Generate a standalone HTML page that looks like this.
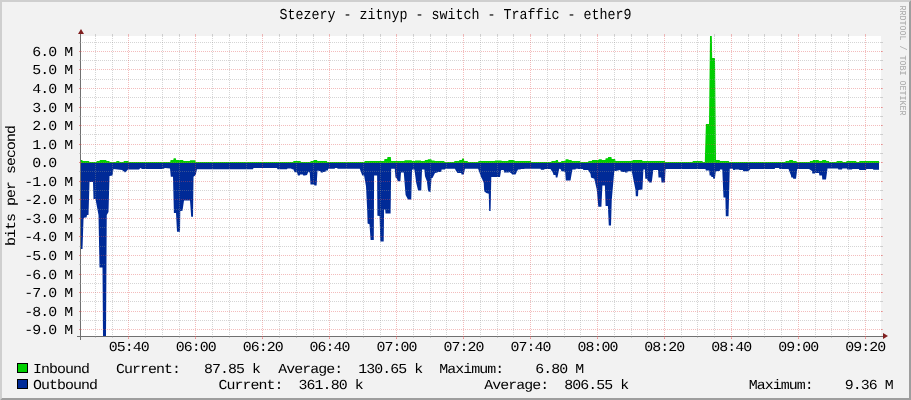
<!DOCTYPE html>
<html><head><meta charset="utf-8"><title>Traffic - ether9</title>
<style>html,body{margin:0;padding:0;background:#F2F2F2;}body{width:911px;height:400px;overflow:hidden;}svg{display:block;will-change:transform;font-family:"Liberation Mono",monospace;}</style>
</head><body>
<svg width="911" height="400" viewBox="0 0 911 400" shape-rendering="crispEdges">
<rect x="0" y="0" width="911" height="400" fill="#F2F2F2"/>
<polygon shape-rendering="auto" points="0,0 0,400 2,398 2,2 909,2 911,0" fill="#CFCFCF"/>
<polygon shape-rendering="auto" points="2,398 909,398 909,2 911,0 911,400 0,400" fill="#9E9E9E"/>
<rect x="81" y="36" width="800" height="300" fill="#FFFFFF"/>
<path shape-rendering="auto" d="M81.00,163.00 L81.00,160.00 L82.30,160.00 L82.70,161.00 L89.00,161.00 L89.40,162.00 L96.40,162.00 L96.80,161.00 L99.50,161.00 L99.90,160.00 L106.20,160.00 L106.60,161.00 L109.30,161.00 L109.70,162.00 L116.10,162.00 L116.50,161.00 L119.20,161.00 L119.60,162.00 L123.50,162.00 L123.90,161.00 L128.40,161.00 L128.80,162.00 L170.20,162.00 L170.60,160.00 L173.30,160.00 L173.70,158.20 L175.80,158.20 L176.20,160.00 L183.10,160.00 L183.50,161.00 L189.80,161.00 L190.20,160.30 L195.30,160.30 L195.70,162.00 L293.10,162.00 L293.50,161.00 L300.50,161.00 L300.90,162.00 L310.30,162.00 L310.70,161.00 L313.30,161.00 L313.70,160.00 L317.00,160.00 L317.40,161.00 L326.80,161.00 L327.20,162.00 L364.40,162.00 L364.80,161.00 L384.10,161.00 L384.50,159.00 L387.10,159.00 L387.50,157.00 L390.80,157.00 L391.20,161.00 L404.30,161.00 L404.70,160.30 L411.60,160.30 L412.00,161.00 L414.80,161.00 L415.20,160.40 L420.80,160.40 L421.20,161.00 L424.60,161.00 L425.00,160.00 L427.60,160.00 L428.00,159.20 L431.30,159.20 L431.70,160.40 L434.40,160.40 L434.80,161.00 L444.20,161.00 L444.60,162.00 L454.10,162.00 L454.50,161.00 L459.00,161.00 L459.40,160.00 L461.80,160.00 L462.20,158.60 L463.90,158.60 L464.30,161.00 L467.60,161.00 L468.00,162.00 L478.10,162.00 L478.50,161.00 L494.70,161.00 L495.10,160.40 L501.40,160.40 L501.80,161.00 L508.20,161.00 L508.60,160.10 L514.30,160.10 L514.70,161.00 L530.80,161.00 L531.20,162.00 L551.20,162.00 L551.60,161.00 L555.50,161.00 L555.90,160.00 L557.90,160.00 L558.30,162.00 L561.00,162.00 L561.40,161.00 L565.30,161.00 L565.70,159.20 L568.40,159.20 L568.80,160.10 L571.50,160.10 L571.90,161.00 L580.10,161.00 L580.50,162.00 L588.10,162.00 L588.50,161.00 L591.80,161.00 L592.20,160.00 L598.50,160.00 L598.90,159.20 L601.60,159.20 L602.00,160.00 L605.30,160.00 L605.70,158.20 L607.80,158.20 L608.20,157.00 L611.40,157.00 L611.80,159.00 L615.10,159.00 L615.50,161.00 L632.30,161.00 L632.70,160.00 L642.10,160.00 L642.50,161.00 L664.80,161.00 L665.20,162.00 L692.50,162.00 L692.90,161.00 L702.40,161.00 L702.80,162.00 L704.80,162.00 L705.90,124.00 L709.00,124.00 L710.00,36.00 L711.80,36.00 L712.20,58.00 L715.00,58.00 L716.00,160.00 L719.60,160.00 L720.00,161.00 L728.80,161.00 L729.20,162.00 L785.30,162.00 L785.70,161.00 L789.00,161.00 L789.40,160.00 L792.70,160.00 L793.10,161.00 L796.40,161.00 L796.80,162.00 L809.70,162.00 L810.10,161.00 L812.60,161.00 L813.00,160.00 L818.60,160.00 L819.00,161.00 L822.00,161.00 L822.40,160.00 L826.00,160.00 L826.40,161.00 L828.90,161.00 L829.30,162.00 L836.40,162.00 L836.80,161.00 L842.30,161.00 L842.70,162.00 L846.20,162.00 L846.60,161.00 L856.10,161.00 L856.50,162.00 L859.10,162.00 L859.50,161.00 L879.00,161.00 L879.00,163.00 Z" fill="#00CF00"/>
<path shape-rendering="auto" d="M81.00,163.00 L81.00,249.00 L82.50,249.00 L83.50,219.00 L84.50,217.50 L86.50,217.50 L87.00,215.00 L88.50,215.00 L89.50,182.00 L93.00,182.00 L93.50,199.00 L95.50,199.00 L98.50,215.00 L99.50,267.50 L102.50,267.50 L103.00,336.00 L106.00,336.00 L106.75,215.00 L108.50,212.00 L109.50,176.00 L112.50,175.50 L113.50,169.00 L122.00,170.00 L125.00,172.50 L128.00,169.50 L139.00,169.50 L140.50,168.00 L142.00,169.00 L163.00,169.00 L165.00,168.00 L170.00,168.50 L170.80,176.80 L173.00,176.80 L173.90,212.90 L176.00,212.90 L177.00,231.70 L180.00,231.70 L180.30,211.00 L182.50,210.70 L184.00,200.60 L190.00,200.60 L191.20,216.80 L193.00,216.80 L193.50,176.80 L195.70,175.00 L197.00,169.20 L253.00,169.20 L253.50,168.00 L277.00,168.00 L277.50,169.20 L287.00,169.20 L287.50,168.40 L291.00,168.40 L292.00,169.20 L293.30,169.20 L294.50,172.30 L297.00,172.30 L297.90,175.60 L299.75,175.60 L300.00,174.40 L302.90,174.40 L303.20,175.60 L304.75,175.60 L307.00,175.00 L308.20,171.90 L309.75,172.50 L310.50,184.40 L314.10,184.40 L314.50,185.60 L316.60,185.60 L317.50,170.60 L320.40,171.20 L320.80,172.50 L322.90,172.50 L323.20,171.90 L325.40,171.90 L325.80,170.60 L327.90,170.60 L328.20,168.75 L334.75,168.75 L335.00,168.10 L337.25,168.10 L337.50,168.75 L359.75,168.75 L362.25,175.60 L364.10,175.60 L366.00,186.25 L367.20,210.00 L367.60,223.60 L369.50,224.20 L370.60,240.00 L373.80,240.00 L374.10,175.60 L377.10,175.60 L377.40,215.70 L379.60,215.90 L380.30,241.60 L383.70,241.60 L384.10,209.60 L385.20,209.60 L385.50,213.50 L390.60,213.50 L391.20,168.75 L392.25,168.75 L394.75,168.75 L395.50,177.50 L396.60,178.00 L397.90,181.25 L400.40,181.25 L401.00,172.50 L403.75,172.50 L405.60,195.00 L408.00,199.40 L411.25,199.40 L412.00,170.00 L412.50,169.40 L414.40,169.40 L416.25,183.00 L418.10,190.60 L421.25,190.60 L422.00,169.40 L424.40,169.40 L425.00,176.25 L426.90,181.25 L428.10,191.25 L430.60,191.90 L431.50,178.10 L432.50,178.10 L435.00,173.10 L437.50,172.50 L437.80,171.90 L441.25,171.90 L441.60,169.40 L445.00,169.40 L445.30,168.75 L455.00,168.75 L455.50,170.00 L457.50,173.10 L461.25,173.10 L461.50,174.40 L463.75,174.40 L465.00,168.75 L478.10,168.75 L481.25,177.50 L482.00,178.75 L483.75,183.00 L484.20,191.25 L486.25,193.00 L488.75,193.75 L489.20,211.00 L490.60,211.00 L491.30,176.90 L500.00,176.90 L501.20,170.00 L503.75,170.00 L504.00,172.50 L508.75,172.50 L509.25,171.90 L510.00,172.50 L511.75,173.75 L512.00,174.40 L515.50,174.40 L518.00,169.40 L520.50,169.40 L520.80,169.00 L524.25,169.00 L524.50,168.75 L540.50,168.75 L541.00,169.75 L544.25,169.75 L544.50,169.00 L550.50,169.00 L553.00,173.00 L553.50,175.00 L555.50,175.00 L555.80,177.50 L557.40,177.50 L559.25,168.75 L560.50,169.00 L561.50,171.25 L563.00,171.25 L565.20,171.90 L565.80,180.60 L570.50,180.60 L572.40,169.40 L575.50,169.40 L575.80,168.75 L578.00,168.75 L578.30,169.00 L583.00,169.00 L583.30,170.00 L588.00,170.00 L590.50,173.75 L591.00,177.50 L594.25,178.75 L596.75,189.40 L598.30,206.80 L601.40,206.80 L602.40,185.60 L604.90,185.60 L605.60,205.90 L607.90,205.90 L608.80,225.60 L611.00,225.60 L611.75,200.00 L614.25,171.25 L618.00,170.60 L619.90,170.00 L621.75,171.90 L624.90,171.90 L625.20,172.50 L627.40,172.50 L627.70,171.25 L631.75,171.25 L633.60,180.60 L635.50,190.00 L635.80,196.25 L638.00,196.25 L638.30,190.00 L642.40,189.40 L643.40,169.40 L644.90,169.40 L645.30,178.75 L646.75,178.75 L649.25,182.50 L651.75,182.50 L653.30,170.00 L658.00,170.00 L658.50,177.50 L661.10,177.50 L661.50,182.50 L664.90,182.50 L665.50,169.40 L666.00,168.90 L705.50,168.90 L705.80,170.60 L709.25,170.60 L709.60,175.60 L711.10,175.60 L711.40,176.90 L713.00,176.90 L713.30,178.75 L714.90,178.75 L715.80,171.25 L719.75,171.00 L720.00,169.40 L722.25,169.40 L723.50,197.50 L725.40,197.50 L725.80,216.25 L728.50,216.25 L729.75,168.75 L732.90,168.75 L733.20,170.00 L734.75,170.00 L735.00,169.40 L739.10,169.40 L739.40,170.00 L742.90,170.00 L743.20,171.25 L748.50,171.25 L750.40,169.00 L774.75,169.00 L775.00,168.10 L779.10,168.10 L779.40,169.00 L788.50,169.00 L791.00,175.60 L791.30,177.50 L792.90,177.50 L793.20,178.75 L796.00,178.75 L797.25,169.00 L809.00,169.00 L812.00,171.00 L812.30,173.50 L815.00,173.50 L815.30,173.00 L819.00,173.00 L819.40,175.50 L822.00,175.50 L822.30,179.50 L826.00,179.50 L827.50,168.50 L838.00,168.50 L838.30,169.50 L842.00,169.50 L842.30,168.50 L847.00,168.50 L847.30,169.50 L852.00,169.50 L852.30,169.00 L859.00,169.00 L859.30,170.00 L866.00,170.00 L866.30,169.00 L873.00,169.00 L873.30,169.70 L879.00,169.70 L879.00,163.00 Z" fill="#002A97"/>
<rect x="77" y="336" width="808" height="1" fill="#707070"/>
<rect x="80" y="32" width="1" height="308" fill="#707070"/>
<polygon shape-rendering="auto" points="883,333 883,339 888,336" fill="#801F1F"/>
<polygon shape-rendering="auto" points="78,34 84,34 81,29" fill="#801F1F"/>
<line x1="79" y1="329.5" x2="883" y2="329.5" stroke="rgba(224,80,80,0.38)" stroke-width="1" stroke-dasharray="1 1"/>
<line x1="79" y1="329.5" x2="81" y2="329.5" stroke="rgba(224,80,80,0.38)" stroke-width="1"/>
<line x1="881" y1="329.5" x2="883" y2="329.5" stroke="rgba(224,80,80,0.38)" stroke-width="1"/>
<line x1="80" y1="320.5" x2="882" y2="320.5" stroke="rgba(144,144,144,0.38)" stroke-width="1" stroke-dasharray="1 1"/>
<line x1="79" y1="320.5" x2="81" y2="320.5" stroke="rgba(144,144,144,0.38)" stroke-width="1"/>
<line x1="881" y1="320.5" x2="883" y2="320.5" stroke="rgba(144,144,144,0.38)" stroke-width="1"/>
<line x1="79" y1="311.5" x2="883" y2="311.5" stroke="rgba(224,80,80,0.38)" stroke-width="1" stroke-dasharray="1 1"/>
<line x1="79" y1="311.5" x2="81" y2="311.5" stroke="rgba(224,80,80,0.38)" stroke-width="1"/>
<line x1="881" y1="311.5" x2="883" y2="311.5" stroke="rgba(224,80,80,0.38)" stroke-width="1"/>
<line x1="80" y1="301.5" x2="882" y2="301.5" stroke="rgba(144,144,144,0.38)" stroke-width="1" stroke-dasharray="1 1"/>
<line x1="79" y1="301.5" x2="81" y2="301.5" stroke="rgba(144,144,144,0.38)" stroke-width="1"/>
<line x1="881" y1="301.5" x2="883" y2="301.5" stroke="rgba(144,144,144,0.38)" stroke-width="1"/>
<line x1="79" y1="292.5" x2="883" y2="292.5" stroke="rgba(224,80,80,0.38)" stroke-width="1" stroke-dasharray="1 1"/>
<line x1="79" y1="292.5" x2="81" y2="292.5" stroke="rgba(224,80,80,0.38)" stroke-width="1"/>
<line x1="881" y1="292.5" x2="883" y2="292.5" stroke="rgba(224,80,80,0.38)" stroke-width="1"/>
<line x1="80" y1="283.5" x2="882" y2="283.5" stroke="rgba(144,144,144,0.38)" stroke-width="1" stroke-dasharray="1 1"/>
<line x1="79" y1="283.5" x2="81" y2="283.5" stroke="rgba(144,144,144,0.38)" stroke-width="1"/>
<line x1="881" y1="283.5" x2="883" y2="283.5" stroke="rgba(144,144,144,0.38)" stroke-width="1"/>
<line x1="79" y1="274.5" x2="883" y2="274.5" stroke="rgba(224,80,80,0.38)" stroke-width="1" stroke-dasharray="1 1"/>
<line x1="79" y1="274.5" x2="81" y2="274.5" stroke="rgba(224,80,80,0.38)" stroke-width="1"/>
<line x1="881" y1="274.5" x2="883" y2="274.5" stroke="rgba(224,80,80,0.38)" stroke-width="1"/>
<line x1="80" y1="264.5" x2="882" y2="264.5" stroke="rgba(144,144,144,0.38)" stroke-width="1" stroke-dasharray="1 1"/>
<line x1="79" y1="264.5" x2="81" y2="264.5" stroke="rgba(144,144,144,0.38)" stroke-width="1"/>
<line x1="881" y1="264.5" x2="883" y2="264.5" stroke="rgba(144,144,144,0.38)" stroke-width="1"/>
<line x1="79" y1="255.5" x2="883" y2="255.5" stroke="rgba(224,80,80,0.38)" stroke-width="1" stroke-dasharray="1 1"/>
<line x1="79" y1="255.5" x2="81" y2="255.5" stroke="rgba(224,80,80,0.38)" stroke-width="1"/>
<line x1="881" y1="255.5" x2="883" y2="255.5" stroke="rgba(224,80,80,0.38)" stroke-width="1"/>
<line x1="80" y1="246.5" x2="882" y2="246.5" stroke="rgba(144,144,144,0.38)" stroke-width="1" stroke-dasharray="1 1"/>
<line x1="79" y1="246.5" x2="81" y2="246.5" stroke="rgba(144,144,144,0.38)" stroke-width="1"/>
<line x1="881" y1="246.5" x2="883" y2="246.5" stroke="rgba(144,144,144,0.38)" stroke-width="1"/>
<line x1="79" y1="236.5" x2="883" y2="236.5" stroke="rgba(224,80,80,0.38)" stroke-width="1" stroke-dasharray="1 1"/>
<line x1="79" y1="236.5" x2="81" y2="236.5" stroke="rgba(224,80,80,0.38)" stroke-width="1"/>
<line x1="881" y1="236.5" x2="883" y2="236.5" stroke="rgba(224,80,80,0.38)" stroke-width="1"/>
<line x1="80" y1="227.5" x2="882" y2="227.5" stroke="rgba(144,144,144,0.38)" stroke-width="1" stroke-dasharray="1 1"/>
<line x1="79" y1="227.5" x2="81" y2="227.5" stroke="rgba(144,144,144,0.38)" stroke-width="1"/>
<line x1="881" y1="227.5" x2="883" y2="227.5" stroke="rgba(144,144,144,0.38)" stroke-width="1"/>
<line x1="79" y1="218.5" x2="883" y2="218.5" stroke="rgba(224,80,80,0.38)" stroke-width="1" stroke-dasharray="1 1"/>
<line x1="79" y1="218.5" x2="81" y2="218.5" stroke="rgba(224,80,80,0.38)" stroke-width="1"/>
<line x1="881" y1="218.5" x2="883" y2="218.5" stroke="rgba(224,80,80,0.38)" stroke-width="1"/>
<line x1="80" y1="209.5" x2="882" y2="209.5" stroke="rgba(144,144,144,0.38)" stroke-width="1" stroke-dasharray="1 1"/>
<line x1="79" y1="209.5" x2="81" y2="209.5" stroke="rgba(144,144,144,0.38)" stroke-width="1"/>
<line x1="881" y1="209.5" x2="883" y2="209.5" stroke="rgba(144,144,144,0.38)" stroke-width="1"/>
<line x1="79" y1="199.5" x2="883" y2="199.5" stroke="rgba(224,80,80,0.38)" stroke-width="1" stroke-dasharray="1 1"/>
<line x1="79" y1="199.5" x2="81" y2="199.5" stroke="rgba(224,80,80,0.38)" stroke-width="1"/>
<line x1="881" y1="199.5" x2="883" y2="199.5" stroke="rgba(224,80,80,0.38)" stroke-width="1"/>
<line x1="80" y1="190.5" x2="882" y2="190.5" stroke="rgba(144,144,144,0.38)" stroke-width="1" stroke-dasharray="1 1"/>
<line x1="79" y1="190.5" x2="81" y2="190.5" stroke="rgba(144,144,144,0.38)" stroke-width="1"/>
<line x1="881" y1="190.5" x2="883" y2="190.5" stroke="rgba(144,144,144,0.38)" stroke-width="1"/>
<line x1="79" y1="181.5" x2="883" y2="181.5" stroke="rgba(224,80,80,0.38)" stroke-width="1" stroke-dasharray="1 1"/>
<line x1="79" y1="181.5" x2="81" y2="181.5" stroke="rgba(224,80,80,0.38)" stroke-width="1"/>
<line x1="881" y1="181.5" x2="883" y2="181.5" stroke="rgba(224,80,80,0.38)" stroke-width="1"/>
<line x1="80" y1="171.5" x2="882" y2="171.5" stroke="rgba(144,144,144,0.38)" stroke-width="1" stroke-dasharray="1 1"/>
<line x1="79" y1="171.5" x2="81" y2="171.5" stroke="rgba(144,144,144,0.38)" stroke-width="1"/>
<line x1="881" y1="171.5" x2="883" y2="171.5" stroke="rgba(144,144,144,0.38)" stroke-width="1"/>
<line x1="79" y1="162.5" x2="883" y2="162.5" stroke="rgba(224,80,80,0.38)" stroke-width="1" stroke-dasharray="1 1"/>
<line x1="79" y1="162.5" x2="81" y2="162.5" stroke="rgba(224,80,80,0.38)" stroke-width="1"/>
<line x1="881" y1="162.5" x2="883" y2="162.5" stroke="rgba(224,80,80,0.38)" stroke-width="1"/>
<line x1="80" y1="153.5" x2="882" y2="153.5" stroke="rgba(144,144,144,0.38)" stroke-width="1" stroke-dasharray="1 1"/>
<line x1="79" y1="153.5" x2="81" y2="153.5" stroke="rgba(144,144,144,0.38)" stroke-width="1"/>
<line x1="881" y1="153.5" x2="883" y2="153.5" stroke="rgba(144,144,144,0.38)" stroke-width="1"/>
<line x1="79" y1="144.5" x2="883" y2="144.5" stroke="rgba(224,80,80,0.38)" stroke-width="1" stroke-dasharray="1 1"/>
<line x1="79" y1="144.5" x2="81" y2="144.5" stroke="rgba(224,80,80,0.38)" stroke-width="1"/>
<line x1="881" y1="144.5" x2="883" y2="144.5" stroke="rgba(224,80,80,0.38)" stroke-width="1"/>
<line x1="80" y1="134.5" x2="882" y2="134.5" stroke="rgba(144,144,144,0.38)" stroke-width="1" stroke-dasharray="1 1"/>
<line x1="79" y1="134.5" x2="81" y2="134.5" stroke="rgba(144,144,144,0.38)" stroke-width="1"/>
<line x1="881" y1="134.5" x2="883" y2="134.5" stroke="rgba(144,144,144,0.38)" stroke-width="1"/>
<line x1="79" y1="125.5" x2="883" y2="125.5" stroke="rgba(224,80,80,0.38)" stroke-width="1" stroke-dasharray="1 1"/>
<line x1="79" y1="125.5" x2="81" y2="125.5" stroke="rgba(224,80,80,0.38)" stroke-width="1"/>
<line x1="881" y1="125.5" x2="883" y2="125.5" stroke="rgba(224,80,80,0.38)" stroke-width="1"/>
<line x1="80" y1="116.5" x2="882" y2="116.5" stroke="rgba(144,144,144,0.38)" stroke-width="1" stroke-dasharray="1 1"/>
<line x1="79" y1="116.5" x2="81" y2="116.5" stroke="rgba(144,144,144,0.38)" stroke-width="1"/>
<line x1="881" y1="116.5" x2="883" y2="116.5" stroke="rgba(144,144,144,0.38)" stroke-width="1"/>
<line x1="79" y1="107.5" x2="883" y2="107.5" stroke="rgba(224,80,80,0.38)" stroke-width="1" stroke-dasharray="1 1"/>
<line x1="79" y1="107.5" x2="81" y2="107.5" stroke="rgba(224,80,80,0.38)" stroke-width="1"/>
<line x1="881" y1="107.5" x2="883" y2="107.5" stroke="rgba(224,80,80,0.38)" stroke-width="1"/>
<line x1="80" y1="97.5" x2="882" y2="97.5" stroke="rgba(144,144,144,0.38)" stroke-width="1" stroke-dasharray="1 1"/>
<line x1="79" y1="97.5" x2="81" y2="97.5" stroke="rgba(144,144,144,0.38)" stroke-width="1"/>
<line x1="881" y1="97.5" x2="883" y2="97.5" stroke="rgba(144,144,144,0.38)" stroke-width="1"/>
<line x1="79" y1="88.5" x2="883" y2="88.5" stroke="rgba(224,80,80,0.38)" stroke-width="1" stroke-dasharray="1 1"/>
<line x1="79" y1="88.5" x2="81" y2="88.5" stroke="rgba(224,80,80,0.38)" stroke-width="1"/>
<line x1="881" y1="88.5" x2="883" y2="88.5" stroke="rgba(224,80,80,0.38)" stroke-width="1"/>
<line x1="80" y1="79.5" x2="882" y2="79.5" stroke="rgba(144,144,144,0.38)" stroke-width="1" stroke-dasharray="1 1"/>
<line x1="79" y1="79.5" x2="81" y2="79.5" stroke="rgba(144,144,144,0.38)" stroke-width="1"/>
<line x1="881" y1="79.5" x2="883" y2="79.5" stroke="rgba(144,144,144,0.38)" stroke-width="1"/>
<line x1="79" y1="69.5" x2="883" y2="69.5" stroke="rgba(224,80,80,0.38)" stroke-width="1" stroke-dasharray="1 1"/>
<line x1="79" y1="69.5" x2="81" y2="69.5" stroke="rgba(224,80,80,0.38)" stroke-width="1"/>
<line x1="881" y1="69.5" x2="883" y2="69.5" stroke="rgba(224,80,80,0.38)" stroke-width="1"/>
<line x1="80" y1="60.5" x2="882" y2="60.5" stroke="rgba(144,144,144,0.38)" stroke-width="1" stroke-dasharray="1 1"/>
<line x1="79" y1="60.5" x2="81" y2="60.5" stroke="rgba(144,144,144,0.38)" stroke-width="1"/>
<line x1="881" y1="60.5" x2="883" y2="60.5" stroke="rgba(144,144,144,0.38)" stroke-width="1"/>
<line x1="79" y1="51.5" x2="883" y2="51.5" stroke="rgba(224,80,80,0.38)" stroke-width="1" stroke-dasharray="1 1"/>
<line x1="79" y1="51.5" x2="81" y2="51.5" stroke="rgba(224,80,80,0.38)" stroke-width="1"/>
<line x1="881" y1="51.5" x2="883" y2="51.5" stroke="rgba(224,80,80,0.38)" stroke-width="1"/>
<line x1="80" y1="42.5" x2="882" y2="42.5" stroke="rgba(144,144,144,0.38)" stroke-width="1" stroke-dasharray="1 1"/>
<line x1="79" y1="42.5" x2="81" y2="42.5" stroke="rgba(144,144,144,0.38)" stroke-width="1"/>
<line x1="881" y1="42.5" x2="883" y2="42.5" stroke="rgba(144,144,144,0.38)" stroke-width="1"/>
<line x1="95.5" y1="36" x2="95.5" y2="336" stroke="rgba(144,144,144,0.38)" stroke-width="1" stroke-dasharray="1 1"/>
<line x1="95.5" y1="34" x2="95.5" y2="36" stroke="rgba(144,144,144,0.38)" stroke-width="1"/>
<line x1="95.5" y1="336" x2="95.5" y2="338" stroke="rgba(144,144,144,0.38)" stroke-width="1"/>
<line x1="112.5" y1="36" x2="112.5" y2="336" stroke="rgba(144,144,144,0.38)" stroke-width="1" stroke-dasharray="1 1"/>
<line x1="112.5" y1="34" x2="112.5" y2="36" stroke="rgba(144,144,144,0.38)" stroke-width="1"/>
<line x1="112.5" y1="336" x2="112.5" y2="338" stroke="rgba(144,144,144,0.38)" stroke-width="1"/>
<line x1="128.5" y1="36" x2="128.5" y2="339" stroke="rgba(224,80,80,0.38)" stroke-width="1" stroke-dasharray="1 1"/>
<line x1="128.5" y1="34" x2="128.5" y2="36" stroke="rgba(224,80,80,0.38)" stroke-width="1"/>
<line x1="128.5" y1="336" x2="128.5" y2="339" stroke="rgba(224,80,80,0.38)" stroke-width="1"/>
<line x1="145.5" y1="36" x2="145.5" y2="336" stroke="rgba(144,144,144,0.38)" stroke-width="1" stroke-dasharray="1 1"/>
<line x1="145.5" y1="34" x2="145.5" y2="36" stroke="rgba(144,144,144,0.38)" stroke-width="1"/>
<line x1="145.5" y1="336" x2="145.5" y2="338" stroke="rgba(144,144,144,0.38)" stroke-width="1"/>
<line x1="162.5" y1="36" x2="162.5" y2="336" stroke="rgba(144,144,144,0.38)" stroke-width="1" stroke-dasharray="1 1"/>
<line x1="162.5" y1="34" x2="162.5" y2="36" stroke="rgba(144,144,144,0.38)" stroke-width="1"/>
<line x1="162.5" y1="336" x2="162.5" y2="338" stroke="rgba(144,144,144,0.38)" stroke-width="1"/>
<line x1="179.5" y1="36" x2="179.5" y2="336" stroke="rgba(144,144,144,0.38)" stroke-width="1" stroke-dasharray="1 1"/>
<line x1="179.5" y1="34" x2="179.5" y2="36" stroke="rgba(144,144,144,0.38)" stroke-width="1"/>
<line x1="179.5" y1="336" x2="179.5" y2="338" stroke="rgba(144,144,144,0.38)" stroke-width="1"/>
<line x1="195.5" y1="36" x2="195.5" y2="339" stroke="rgba(224,80,80,0.38)" stroke-width="1" stroke-dasharray="1 1"/>
<line x1="195.5" y1="34" x2="195.5" y2="36" stroke="rgba(224,80,80,0.38)" stroke-width="1"/>
<line x1="195.5" y1="336" x2="195.5" y2="339" stroke="rgba(224,80,80,0.38)" stroke-width="1"/>
<line x1="212.5" y1="36" x2="212.5" y2="336" stroke="rgba(144,144,144,0.38)" stroke-width="1" stroke-dasharray="1 1"/>
<line x1="212.5" y1="34" x2="212.5" y2="36" stroke="rgba(144,144,144,0.38)" stroke-width="1"/>
<line x1="212.5" y1="336" x2="212.5" y2="338" stroke="rgba(144,144,144,0.38)" stroke-width="1"/>
<line x1="229.5" y1="36" x2="229.5" y2="336" stroke="rgba(144,144,144,0.38)" stroke-width="1" stroke-dasharray="1 1"/>
<line x1="229.5" y1="34" x2="229.5" y2="36" stroke="rgba(144,144,144,0.38)" stroke-width="1"/>
<line x1="229.5" y1="336" x2="229.5" y2="338" stroke="rgba(144,144,144,0.38)" stroke-width="1"/>
<line x1="246.5" y1="36" x2="246.5" y2="336" stroke="rgba(144,144,144,0.38)" stroke-width="1" stroke-dasharray="1 1"/>
<line x1="246.5" y1="34" x2="246.5" y2="36" stroke="rgba(144,144,144,0.38)" stroke-width="1"/>
<line x1="246.5" y1="336" x2="246.5" y2="338" stroke="rgba(144,144,144,0.38)" stroke-width="1"/>
<line x1="262.5" y1="36" x2="262.5" y2="339" stroke="rgba(224,80,80,0.38)" stroke-width="1" stroke-dasharray="1 1"/>
<line x1="262.5" y1="34" x2="262.5" y2="36" stroke="rgba(224,80,80,0.38)" stroke-width="1"/>
<line x1="262.5" y1="336" x2="262.5" y2="339" stroke="rgba(224,80,80,0.38)" stroke-width="1"/>
<line x1="279.5" y1="36" x2="279.5" y2="336" stroke="rgba(144,144,144,0.38)" stroke-width="1" stroke-dasharray="1 1"/>
<line x1="279.5" y1="34" x2="279.5" y2="36" stroke="rgba(144,144,144,0.38)" stroke-width="1"/>
<line x1="279.5" y1="336" x2="279.5" y2="338" stroke="rgba(144,144,144,0.38)" stroke-width="1"/>
<line x1="296.5" y1="36" x2="296.5" y2="336" stroke="rgba(144,144,144,0.38)" stroke-width="1" stroke-dasharray="1 1"/>
<line x1="296.5" y1="34" x2="296.5" y2="36" stroke="rgba(144,144,144,0.38)" stroke-width="1"/>
<line x1="296.5" y1="336" x2="296.5" y2="338" stroke="rgba(144,144,144,0.38)" stroke-width="1"/>
<line x1="313.5" y1="36" x2="313.5" y2="336" stroke="rgba(144,144,144,0.38)" stroke-width="1" stroke-dasharray="1 1"/>
<line x1="313.5" y1="34" x2="313.5" y2="36" stroke="rgba(144,144,144,0.38)" stroke-width="1"/>
<line x1="313.5" y1="336" x2="313.5" y2="338" stroke="rgba(144,144,144,0.38)" stroke-width="1"/>
<line x1="329.5" y1="36" x2="329.5" y2="339" stroke="rgba(224,80,80,0.38)" stroke-width="1" stroke-dasharray="1 1"/>
<line x1="329.5" y1="34" x2="329.5" y2="36" stroke="rgba(224,80,80,0.38)" stroke-width="1"/>
<line x1="329.5" y1="336" x2="329.5" y2="339" stroke="rgba(224,80,80,0.38)" stroke-width="1"/>
<line x1="346.5" y1="36" x2="346.5" y2="336" stroke="rgba(144,144,144,0.38)" stroke-width="1" stroke-dasharray="1 1"/>
<line x1="346.5" y1="34" x2="346.5" y2="36" stroke="rgba(144,144,144,0.38)" stroke-width="1"/>
<line x1="346.5" y1="336" x2="346.5" y2="338" stroke="rgba(144,144,144,0.38)" stroke-width="1"/>
<line x1="363.5" y1="36" x2="363.5" y2="336" stroke="rgba(144,144,144,0.38)" stroke-width="1" stroke-dasharray="1 1"/>
<line x1="363.5" y1="34" x2="363.5" y2="36" stroke="rgba(144,144,144,0.38)" stroke-width="1"/>
<line x1="363.5" y1="336" x2="363.5" y2="338" stroke="rgba(144,144,144,0.38)" stroke-width="1"/>
<line x1="380.5" y1="36" x2="380.5" y2="336" stroke="rgba(144,144,144,0.38)" stroke-width="1" stroke-dasharray="1 1"/>
<line x1="380.5" y1="34" x2="380.5" y2="36" stroke="rgba(144,144,144,0.38)" stroke-width="1"/>
<line x1="380.5" y1="336" x2="380.5" y2="338" stroke="rgba(144,144,144,0.38)" stroke-width="1"/>
<line x1="396.5" y1="36" x2="396.5" y2="339" stroke="rgba(224,80,80,0.38)" stroke-width="1" stroke-dasharray="1 1"/>
<line x1="396.5" y1="34" x2="396.5" y2="36" stroke="rgba(224,80,80,0.38)" stroke-width="1"/>
<line x1="396.5" y1="336" x2="396.5" y2="339" stroke="rgba(224,80,80,0.38)" stroke-width="1"/>
<line x1="413.5" y1="36" x2="413.5" y2="336" stroke="rgba(144,144,144,0.38)" stroke-width="1" stroke-dasharray="1 1"/>
<line x1="413.5" y1="34" x2="413.5" y2="36" stroke="rgba(144,144,144,0.38)" stroke-width="1"/>
<line x1="413.5" y1="336" x2="413.5" y2="338" stroke="rgba(144,144,144,0.38)" stroke-width="1"/>
<line x1="430.5" y1="36" x2="430.5" y2="336" stroke="rgba(144,144,144,0.38)" stroke-width="1" stroke-dasharray="1 1"/>
<line x1="430.5" y1="34" x2="430.5" y2="36" stroke="rgba(144,144,144,0.38)" stroke-width="1"/>
<line x1="430.5" y1="336" x2="430.5" y2="338" stroke="rgba(144,144,144,0.38)" stroke-width="1"/>
<line x1="446.5" y1="36" x2="446.5" y2="336" stroke="rgba(144,144,144,0.38)" stroke-width="1" stroke-dasharray="1 1"/>
<line x1="446.5" y1="34" x2="446.5" y2="36" stroke="rgba(144,144,144,0.38)" stroke-width="1"/>
<line x1="446.5" y1="336" x2="446.5" y2="338" stroke="rgba(144,144,144,0.38)" stroke-width="1"/>
<line x1="463.5" y1="36" x2="463.5" y2="339" stroke="rgba(224,80,80,0.38)" stroke-width="1" stroke-dasharray="1 1"/>
<line x1="463.5" y1="34" x2="463.5" y2="36" stroke="rgba(224,80,80,0.38)" stroke-width="1"/>
<line x1="463.5" y1="336" x2="463.5" y2="339" stroke="rgba(224,80,80,0.38)" stroke-width="1"/>
<line x1="480.5" y1="36" x2="480.5" y2="336" stroke="rgba(144,144,144,0.38)" stroke-width="1" stroke-dasharray="1 1"/>
<line x1="480.5" y1="34" x2="480.5" y2="36" stroke="rgba(144,144,144,0.38)" stroke-width="1"/>
<line x1="480.5" y1="336" x2="480.5" y2="338" stroke="rgba(144,144,144,0.38)" stroke-width="1"/>
<line x1="497.5" y1="36" x2="497.5" y2="336" stroke="rgba(144,144,144,0.38)" stroke-width="1" stroke-dasharray="1 1"/>
<line x1="497.5" y1="34" x2="497.5" y2="36" stroke="rgba(144,144,144,0.38)" stroke-width="1"/>
<line x1="497.5" y1="336" x2="497.5" y2="338" stroke="rgba(144,144,144,0.38)" stroke-width="1"/>
<line x1="513.5" y1="36" x2="513.5" y2="336" stroke="rgba(144,144,144,0.38)" stroke-width="1" stroke-dasharray="1 1"/>
<line x1="513.5" y1="34" x2="513.5" y2="36" stroke="rgba(144,144,144,0.38)" stroke-width="1"/>
<line x1="513.5" y1="336" x2="513.5" y2="338" stroke="rgba(144,144,144,0.38)" stroke-width="1"/>
<line x1="530.5" y1="36" x2="530.5" y2="339" stroke="rgba(224,80,80,0.38)" stroke-width="1" stroke-dasharray="1 1"/>
<line x1="530.5" y1="34" x2="530.5" y2="36" stroke="rgba(224,80,80,0.38)" stroke-width="1"/>
<line x1="530.5" y1="336" x2="530.5" y2="339" stroke="rgba(224,80,80,0.38)" stroke-width="1"/>
<line x1="547.5" y1="36" x2="547.5" y2="336" stroke="rgba(144,144,144,0.38)" stroke-width="1" stroke-dasharray="1 1"/>
<line x1="547.5" y1="34" x2="547.5" y2="36" stroke="rgba(144,144,144,0.38)" stroke-width="1"/>
<line x1="547.5" y1="336" x2="547.5" y2="338" stroke="rgba(144,144,144,0.38)" stroke-width="1"/>
<line x1="564.5" y1="36" x2="564.5" y2="336" stroke="rgba(144,144,144,0.38)" stroke-width="1" stroke-dasharray="1 1"/>
<line x1="564.5" y1="34" x2="564.5" y2="36" stroke="rgba(144,144,144,0.38)" stroke-width="1"/>
<line x1="564.5" y1="336" x2="564.5" y2="338" stroke="rgba(144,144,144,0.38)" stroke-width="1"/>
<line x1="580.5" y1="36" x2="580.5" y2="336" stroke="rgba(144,144,144,0.38)" stroke-width="1" stroke-dasharray="1 1"/>
<line x1="580.5" y1="34" x2="580.5" y2="36" stroke="rgba(144,144,144,0.38)" stroke-width="1"/>
<line x1="580.5" y1="336" x2="580.5" y2="338" stroke="rgba(144,144,144,0.38)" stroke-width="1"/>
<line x1="597.5" y1="36" x2="597.5" y2="339" stroke="rgba(224,80,80,0.38)" stroke-width="1" stroke-dasharray="1 1"/>
<line x1="597.5" y1="34" x2="597.5" y2="36" stroke="rgba(224,80,80,0.38)" stroke-width="1"/>
<line x1="597.5" y1="336" x2="597.5" y2="339" stroke="rgba(224,80,80,0.38)" stroke-width="1"/>
<line x1="614.5" y1="36" x2="614.5" y2="336" stroke="rgba(144,144,144,0.38)" stroke-width="1" stroke-dasharray="1 1"/>
<line x1="614.5" y1="34" x2="614.5" y2="36" stroke="rgba(144,144,144,0.38)" stroke-width="1"/>
<line x1="614.5" y1="336" x2="614.5" y2="338" stroke="rgba(144,144,144,0.38)" stroke-width="1"/>
<line x1="631.5" y1="36" x2="631.5" y2="336" stroke="rgba(144,144,144,0.38)" stroke-width="1" stroke-dasharray="1 1"/>
<line x1="631.5" y1="34" x2="631.5" y2="36" stroke="rgba(144,144,144,0.38)" stroke-width="1"/>
<line x1="631.5" y1="336" x2="631.5" y2="338" stroke="rgba(144,144,144,0.38)" stroke-width="1"/>
<line x1="647.5" y1="36" x2="647.5" y2="336" stroke="rgba(144,144,144,0.38)" stroke-width="1" stroke-dasharray="1 1"/>
<line x1="647.5" y1="34" x2="647.5" y2="36" stroke="rgba(144,144,144,0.38)" stroke-width="1"/>
<line x1="647.5" y1="336" x2="647.5" y2="338" stroke="rgba(144,144,144,0.38)" stroke-width="1"/>
<line x1="664.5" y1="36" x2="664.5" y2="339" stroke="rgba(224,80,80,0.38)" stroke-width="1" stroke-dasharray="1 1"/>
<line x1="664.5" y1="34" x2="664.5" y2="36" stroke="rgba(224,80,80,0.38)" stroke-width="1"/>
<line x1="664.5" y1="336" x2="664.5" y2="339" stroke="rgba(224,80,80,0.38)" stroke-width="1"/>
<line x1="681.5" y1="36" x2="681.5" y2="336" stroke="rgba(144,144,144,0.38)" stroke-width="1" stroke-dasharray="1 1"/>
<line x1="681.5" y1="34" x2="681.5" y2="36" stroke="rgba(144,144,144,0.38)" stroke-width="1"/>
<line x1="681.5" y1="336" x2="681.5" y2="338" stroke="rgba(144,144,144,0.38)" stroke-width="1"/>
<line x1="697.5" y1="36" x2="697.5" y2="336" stroke="rgba(144,144,144,0.38)" stroke-width="1" stroke-dasharray="1 1"/>
<line x1="697.5" y1="34" x2="697.5" y2="36" stroke="rgba(144,144,144,0.38)" stroke-width="1"/>
<line x1="697.5" y1="336" x2="697.5" y2="338" stroke="rgba(144,144,144,0.38)" stroke-width="1"/>
<line x1="714.5" y1="36" x2="714.5" y2="336" stroke="rgba(144,144,144,0.38)" stroke-width="1" stroke-dasharray="1 1"/>
<line x1="714.5" y1="34" x2="714.5" y2="36" stroke="rgba(144,144,144,0.38)" stroke-width="1"/>
<line x1="714.5" y1="336" x2="714.5" y2="338" stroke="rgba(144,144,144,0.38)" stroke-width="1"/>
<line x1="731.5" y1="36" x2="731.5" y2="339" stroke="rgba(224,80,80,0.38)" stroke-width="1" stroke-dasharray="1 1"/>
<line x1="731.5" y1="34" x2="731.5" y2="36" stroke="rgba(224,80,80,0.38)" stroke-width="1"/>
<line x1="731.5" y1="336" x2="731.5" y2="339" stroke="rgba(224,80,80,0.38)" stroke-width="1"/>
<line x1="748.5" y1="36" x2="748.5" y2="336" stroke="rgba(144,144,144,0.38)" stroke-width="1" stroke-dasharray="1 1"/>
<line x1="748.5" y1="34" x2="748.5" y2="36" stroke="rgba(144,144,144,0.38)" stroke-width="1"/>
<line x1="748.5" y1="336" x2="748.5" y2="338" stroke="rgba(144,144,144,0.38)" stroke-width="1"/>
<line x1="764.5" y1="36" x2="764.5" y2="336" stroke="rgba(144,144,144,0.38)" stroke-width="1" stroke-dasharray="1 1"/>
<line x1="764.5" y1="34" x2="764.5" y2="36" stroke="rgba(144,144,144,0.38)" stroke-width="1"/>
<line x1="764.5" y1="336" x2="764.5" y2="338" stroke="rgba(144,144,144,0.38)" stroke-width="1"/>
<line x1="781.5" y1="36" x2="781.5" y2="336" stroke="rgba(144,144,144,0.38)" stroke-width="1" stroke-dasharray="1 1"/>
<line x1="781.5" y1="34" x2="781.5" y2="36" stroke="rgba(144,144,144,0.38)" stroke-width="1"/>
<line x1="781.5" y1="336" x2="781.5" y2="338" stroke="rgba(144,144,144,0.38)" stroke-width="1"/>
<line x1="798.5" y1="36" x2="798.5" y2="339" stroke="rgba(224,80,80,0.38)" stroke-width="1" stroke-dasharray="1 1"/>
<line x1="798.5" y1="34" x2="798.5" y2="36" stroke="rgba(224,80,80,0.38)" stroke-width="1"/>
<line x1="798.5" y1="336" x2="798.5" y2="339" stroke="rgba(224,80,80,0.38)" stroke-width="1"/>
<line x1="815.5" y1="36" x2="815.5" y2="336" stroke="rgba(144,144,144,0.38)" stroke-width="1" stroke-dasharray="1 1"/>
<line x1="815.5" y1="34" x2="815.5" y2="36" stroke="rgba(144,144,144,0.38)" stroke-width="1"/>
<line x1="815.5" y1="336" x2="815.5" y2="338" stroke="rgba(144,144,144,0.38)" stroke-width="1"/>
<line x1="831.5" y1="36" x2="831.5" y2="336" stroke="rgba(144,144,144,0.38)" stroke-width="1" stroke-dasharray="1 1"/>
<line x1="831.5" y1="34" x2="831.5" y2="36" stroke="rgba(144,144,144,0.38)" stroke-width="1"/>
<line x1="831.5" y1="336" x2="831.5" y2="338" stroke="rgba(144,144,144,0.38)" stroke-width="1"/>
<line x1="848.5" y1="36" x2="848.5" y2="336" stroke="rgba(144,144,144,0.38)" stroke-width="1" stroke-dasharray="1 1"/>
<line x1="848.5" y1="34" x2="848.5" y2="36" stroke="rgba(144,144,144,0.38)" stroke-width="1"/>
<line x1="848.5" y1="336" x2="848.5" y2="338" stroke="rgba(144,144,144,0.38)" stroke-width="1"/>
<line x1="865.5" y1="36" x2="865.5" y2="339" stroke="rgba(224,80,80,0.38)" stroke-width="1" stroke-dasharray="1 1"/>
<line x1="865.5" y1="34" x2="865.5" y2="36" stroke="rgba(224,80,80,0.38)" stroke-width="1"/>
<line x1="865.5" y1="336" x2="865.5" y2="339" stroke="rgba(224,80,80,0.38)" stroke-width="1"/>
<g fill="#000" shape-rendering="auto" text-rendering="geometricPrecision">
<text transform="translate(455.5,19) scale(1,1.14)" x="0" y="0" font-family="Liberation Mono" font-size="13.33" text-anchor="middle">Stezery - zitnyp - switch - Traffic - ether9</text>
<text transform="translate(24.22,334.00) scale(1.120,1.030)" x="0" y="0" font-family="Liberation Mono" font-size="13.33" letter-spacing="-0.855" >-9.0 M</text>
<text transform="translate(24.22,316.00) scale(1.120,1.030)" x="0" y="0" font-family="Liberation Mono" font-size="13.33" letter-spacing="-0.855" >-8.0 M</text>
<text transform="translate(24.22,297.00) scale(1.120,1.030)" x="0" y="0" font-family="Liberation Mono" font-size="13.33" letter-spacing="-0.855" >-7.0 M</text>
<text transform="translate(24.22,279.00) scale(1.120,1.030)" x="0" y="0" font-family="Liberation Mono" font-size="13.33" letter-spacing="-0.855" >-6.0 M</text>
<text transform="translate(24.22,260.00) scale(1.120,1.030)" x="0" y="0" font-family="Liberation Mono" font-size="13.33" letter-spacing="-0.855" >-5.0 M</text>
<text transform="translate(24.22,241.00) scale(1.120,1.030)" x="0" y="0" font-family="Liberation Mono" font-size="13.33" letter-spacing="-0.855" >-4.0 M</text>
<text transform="translate(24.22,223.00) scale(1.120,1.030)" x="0" y="0" font-family="Liberation Mono" font-size="13.33" letter-spacing="-0.855" >-3.0 M</text>
<text transform="translate(24.22,204.00) scale(1.120,1.030)" x="0" y="0" font-family="Liberation Mono" font-size="13.33" letter-spacing="-0.855" >-2.0 M</text>
<text transform="translate(24.22,186.00) scale(1.120,1.030)" x="0" y="0" font-family="Liberation Mono" font-size="13.33" letter-spacing="-0.855" >-1.0 M</text>
<text transform="translate(32.22,167.00) scale(1.120,1.030)" x="0" y="0" font-family="Liberation Mono" font-size="13.33" letter-spacing="-0.855" >0.0  </text>
<text transform="translate(32.22,149.00) scale(1.120,1.030)" x="0" y="0" font-family="Liberation Mono" font-size="13.33" letter-spacing="-0.855" >1.0 M</text>
<text transform="translate(32.22,130.00) scale(1.120,1.030)" x="0" y="0" font-family="Liberation Mono" font-size="13.33" letter-spacing="-0.855" >2.0 M</text>
<text transform="translate(32.22,112.00) scale(1.120,1.030)" x="0" y="0" font-family="Liberation Mono" font-size="13.33" letter-spacing="-0.855" >3.0 M</text>
<text transform="translate(32.22,93.00) scale(1.120,1.030)" x="0" y="0" font-family="Liberation Mono" font-size="13.33" letter-spacing="-0.855" >4.0 M</text>
<text transform="translate(32.22,74.00) scale(1.120,1.030)" x="0" y="0" font-family="Liberation Mono" font-size="13.33" letter-spacing="-0.855" >5.0 M</text>
<text transform="translate(32.22,56.00) scale(1.120,1.030)" x="0" y="0" font-family="Liberation Mono" font-size="13.33" letter-spacing="-0.855" >6.0 M</text>
<text transform="translate(108.79,351.00) scale(1.120,1.030)" x="0" y="0" font-family="Liberation Mono" font-size="13.33" letter-spacing="-0.855" >05:40</text>
<text transform="translate(175.74,351.00) scale(1.120,1.030)" x="0" y="0" font-family="Liberation Mono" font-size="13.33" letter-spacing="-0.855" >06:00</text>
<text transform="translate(242.68,351.00) scale(1.120,1.030)" x="0" y="0" font-family="Liberation Mono" font-size="13.33" letter-spacing="-0.855" >06:20</text>
<text transform="translate(309.62,351.00) scale(1.120,1.030)" x="0" y="0" font-family="Liberation Mono" font-size="13.33" letter-spacing="-0.855" >06:40</text>
<text transform="translate(376.57,351.00) scale(1.120,1.030)" x="0" y="0" font-family="Liberation Mono" font-size="13.33" letter-spacing="-0.855" >07:00</text>
<text transform="translate(443.51,351.00) scale(1.120,1.030)" x="0" y="0" font-family="Liberation Mono" font-size="13.33" letter-spacing="-0.855" >07:20</text>
<text transform="translate(510.46,351.00) scale(1.120,1.030)" x="0" y="0" font-family="Liberation Mono" font-size="13.33" letter-spacing="-0.855" >07:40</text>
<text transform="translate(577.40,351.00) scale(1.120,1.030)" x="0" y="0" font-family="Liberation Mono" font-size="13.33" letter-spacing="-0.855" >08:00</text>
<text transform="translate(644.34,351.00) scale(1.120,1.030)" x="0" y="0" font-family="Liberation Mono" font-size="13.33" letter-spacing="-0.855" >08:20</text>
<text transform="translate(711.29,351.00) scale(1.120,1.030)" x="0" y="0" font-family="Liberation Mono" font-size="13.33" letter-spacing="-0.855" >08:40</text>
<text transform="translate(778.23,351.00) scale(1.120,1.030)" x="0" y="0" font-family="Liberation Mono" font-size="13.33" letter-spacing="-0.855" >09:00</text>
<text transform="translate(845.18,351.00) scale(1.120,1.030)" x="0" y="0" font-family="Liberation Mono" font-size="13.33" letter-spacing="-0.855" >09:20</text>
<text transform="translate(15,185.5) rotate(-90) translate(-60.48,0) scale(1.120,1.030)" x="0" y="0" font-family="Liberation Mono" font-size="13.33" letter-spacing="-0.855">bits per second</text>
<rect x="17.5" y="363.5" width="10" height="9" fill="#00CF00" stroke="#000" stroke-width="1"/>
<rect x="17.5" y="379.5" width="10" height="9" fill="#002A97" stroke="#000" stroke-width="1"/>
<text transform="translate(33.12,373.00) scale(1.120,1.030)" x="0" y="0" font-family="Liberation Mono" font-size="13.33" letter-spacing="-0.855" >Inbound</text>
<text transform="translate(115.92,373.00) scale(1.120,1.030)" x="0" y="0" font-family="Liberation Mono" font-size="13.33" letter-spacing="-0.855" >Current:   87.85 k</text>
<text transform="translate(278.22,373.00) scale(1.120,1.030)" x="0" y="0" font-family="Liberation Mono" font-size="13.33" letter-spacing="-0.855" >Average:  130.65 k</text>
<text transform="translate(439.22,373.00) scale(1.120,1.030)" x="0" y="0" font-family="Liberation Mono" font-size="13.33" letter-spacing="-0.855" >Maximum:    6.80 M</text>
<text transform="translate(33.12,389.00) scale(1.120,1.030)" x="0" y="0" font-family="Liberation Mono" font-size="13.33" letter-spacing="-0.855" >Outbound</text>
<text transform="translate(218.62,389.00) scale(1.120,1.030)" x="0" y="0" font-family="Liberation Mono" font-size="13.33" letter-spacing="-0.855" >Current:  361.80 k</text>
<text transform="translate(484.22,389.00) scale(1.120,1.030)" x="0" y="0" font-family="Liberation Mono" font-size="13.33" letter-spacing="-0.855" >Average:  806.55 k</text>
<text transform="translate(748.82,389.00) scale(1.120,1.030)" x="0" y="0" font-family="Liberation Mono" font-size="13.33" letter-spacing="-0.855" >Maximum:    9.36 M</text>
</g>
<text transform="translate(900,5.5) rotate(90)" font-family="Liberation Mono" font-size="8.33" fill="#AAAAAA">RRDTOOL / TOBI OETIKER</text>
</svg>
</body></html>
